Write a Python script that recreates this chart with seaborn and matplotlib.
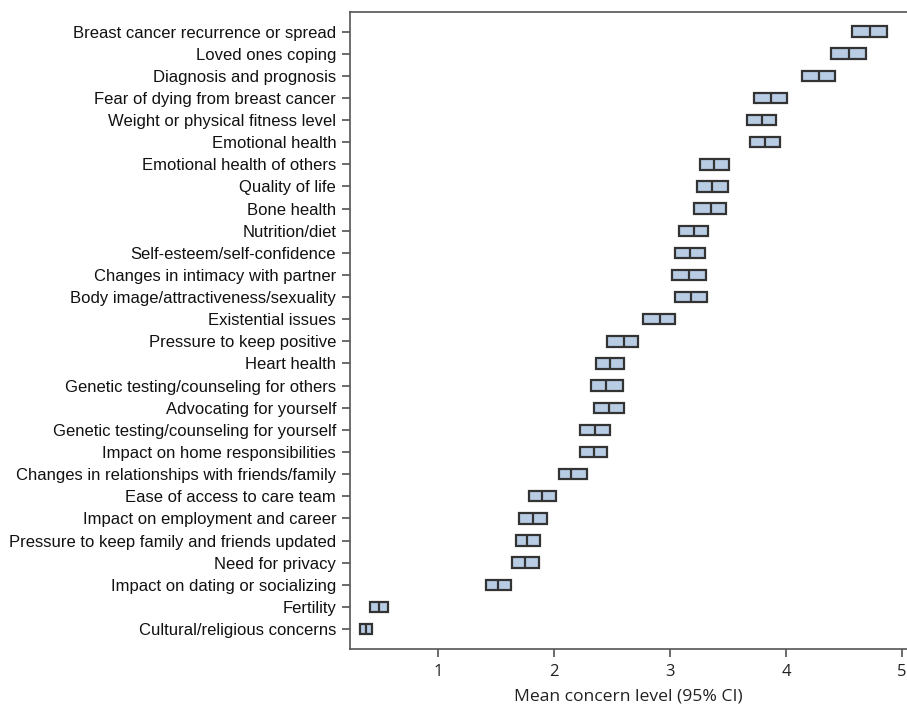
import matplotlib
matplotlib.use('Agg')
import matplotlib.pyplot as plt
import seaborn as sns
import pandas as pd

concerns = [
    'Breast cancer recurrence or spread', 'Loved ones coping',
    'Diagnosis and prognosis', 'Fear of dying from breast cancer',
    'Weight or physical fitness level', 'Emotional health',
    'Emotional health of others', 'Quality of life', 'Bone health',
    'Nutrition/diet', 'Self-esteem/self-confidence',
    'Changes in intimacy with partner', 'Body image/attractiveness/sexuality',
    'Existential issues', 'Pressure to keep positive', 'Heart health',
    'Genetic testing/counseling for others', 'Advocating for yourself',
    'Genetic testing/counseling for yourself', 'Impact on home responsibilities',
    'Changes in relationships with friends/family', 'Ease of access to care team',
    'Impact on employment and career', 'Pressure to keep family and friends updated',
    'Need for privacy', 'Impact on dating or socializing', 'Fertility',
    'Cultural/religious concerns',
]
mean = [4.72, 4.54, 4.28, 3.87, 3.79, 3.82, 3.38, 3.36, 3.35, 3.21, 3.17,
        3.16, 3.18, 2.91, 2.60, 2.48, 2.45, 2.47, 2.35, 2.34, 2.15, 1.90,
        1.82, 1.77, 1.75, 1.52, 0.49, 0.38]
ci_low = [4.57, 4.39, 4.14, 3.72, 3.66, 3.69, 3.26, 3.23, 3.21, 3.08, 3.04,
          3.02, 3.04, 2.77, 2.46, 2.36, 2.32, 2.34, 2.22, 2.22, 2.04, 1.78,
          1.70, 1.67, 1.64, 1.41, 0.41, 0.33]
ci_high = [4.87, 4.69, 4.42, 4.01, 3.91, 3.95, 3.51, 3.50, 3.48, 3.33, 3.30,
           3.31, 3.32, 3.04, 2.72, 2.60, 2.59, 2.60, 2.48, 2.46, 2.28, 2.02,
           1.94, 1.88, 1.87, 1.63, 0.57, 0.43]

# five points per row so the box spans the CI and the middle line is the mean
rows = []
for name, lo, m, hi in zip(concerns, ci_low, mean, ci_high):
    for v in (lo, lo, m, hi, hi):
        rows.append({'concern': name, 'level': v})
df = pd.DataFrame(rows)

sns.set_style('white')
plt.rcParams['font.family'] = ['Liberation Sans', 'DejaVu Sans']

fig = plt.figure(figsize=(9.07, 7.10), dpi=100)
ax = fig.add_axes([0.386, 0.086, 0.614, 0.897])

sns.boxplot(data=df, x='level', y='concern', order=concerns, orient='h',
            width=0.47, color='#b8cce4', linecolor='#333333', linewidth=1.6,
            saturation=1, whis=0, showcaps=False, fliersize=0,
            whiskerprops={'linewidth': 0}, ax=ax)

ax.set_xlim(0.241, 5.043)
ax.set_ylim(27.9, -0.88)
ax.set_xticks([1, 2, 3, 4, 5])
ax.set_xlabel('Mean concern level (95% CI)', fontsize=12.6, family='Open Sans',
              labelpad=6, color='#222222')
ax.set_ylabel('')

for side in ['left', 'bottom', 'top']:
    ax.spines[side].set_color('#555555')
    ax.spines[side].set_linewidth(1.2)
ax.spines['right'].set_visible(False)

ax.tick_params(axis='both', which='major', direction='out', length=6,
               width=1.1, color='#444444', left=True, bottom=True)
ax.tick_params(axis='y', labelsize=12, pad=4, labelcolor='#111111')
ax.tick_params(axis='x', labelsize=12, pad=5, labelcolor='#222222')
for t in ax.get_xticklabels():
    t.set_family('Open Sans')

fig.savefig('out.png', dpi=100)
